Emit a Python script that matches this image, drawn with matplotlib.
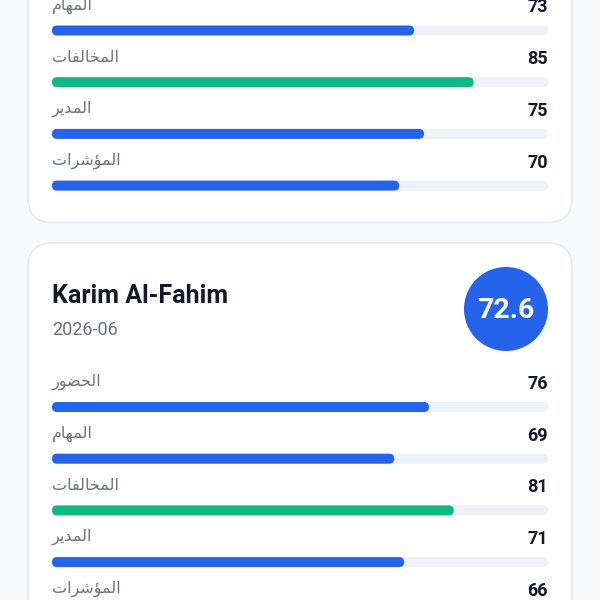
import matplotlib
matplotlib.use("Agg")
import matplotlib.pyplot as plt
from matplotlib.patches import FancyBboxPatch, Circle

# data
metrics = ['الحضور', 'المهام', 'المخالفات', 'المدير', 'المؤشرات']
bar_colors = ['#2563eb', '#2563eb', '#10b981', '#2563eb', '#2563eb']
card1_scores = [None, 73, 85, 75, 70]   # first row is scrolled off the top
card2_name = 'Karim Al-Fahim'
card2_period = '2026-06'
card2_total = 72.6
card2_scores = [76, 69, 81, 71, 66]

# minimal arabic shaping (presentation forms) since matplotlib has no bidi
forms = {'ا': 0xFE8D, 'ل': 0xFEDD, 'ح': 0xFEA1, 'ض': 0xFEBD, 'و': 0xFEED,
         'ر': 0xFEAD, 'م': 0xFEE1, 'ه': 0xFEE9, 'خ': 0xFEA5, 'ف': 0xFED1,
         'ت': 0xFE95, 'د': 0xFEA9, 'ي': 0xFEF1, 'ؤ': 0xFE85, 'ش': 0xFEB5}
dual = set('لحضمهخفتيش')


def shape(word):
    out = []
    for i, c in enumerate(word):
        prev_j = i > 0 and word[i - 1] in dual
        next_j = i < len(word) - 1 and c in dual
        if prev_j and next_j:
            off = 3
        elif prev_j:
            off = 1
        elif next_j:
            off = 2
        else:
            off = 0
        out.append(chr(forms[c] + off))
    return ''.join(reversed(out))


BG = '#f8fafc'
TRACK = '#eef2f7'
GRAY = '#6b7280'
DARK = '#111827'

fig = plt.figure(figsize=(6, 6), dpi=100)
fig.patch.set_facecolor(BG)
ax = fig.add_axes([0, 0, 1, 1])
ax.set_xlim(0, 600)
ax.set_ylim(600, 0)
ax.axis('off')

x0, x1 = 52, 548
track_w = x1 - x0
pitch = 51.7
bar_h = 10


def card(top, bottom):
    ax.add_patch(FancyBboxPatch((28, top), 544, bottom - top,
                                boxstyle='round,pad=0,rounding_size=24',
                                fc='white', ec='#e5e9f0', lw=1.2, zorder=1))


def rows(first_bar_y, scores):
    for i, (lab, val, col) in enumerate(zip(metrics, scores, bar_colors)):
        if val is None:
            continue
        by = first_bar_y + i * pitch
        ax.add_patch(FancyBboxPatch((x0, by - bar_h / 2), track_w, bar_h,
                                    boxstyle='round,pad=0,rounding_size=5',
                                    fc=TRACK, ec='none', zorder=2))
        ax.add_patch(FancyBboxPatch((x0, by - bar_h / 2), track_w * val / 100, bar_h,
                                    boxstyle='round,pad=0,rounding_size=5',
                                    fc=col, ec='none', zorder=3))
        ax.text(x0, by - 25, shape(lab), ha='left', va='center', fontsize=11.5,
                color=GRAY, family=['DejaVu Sans'], zorder=4)
        ax.text(x1, by - 23, str(val), ha='right', va='center', fontsize=13,
                fontweight='bold', color=DARK, family=['Roboto', 'DejaVu Sans'], zorder=4)


# card 1 (partially visible)
card(-185, 222.5)
rows(-21.2, card1_scores)

# card 2
card(243, 651)
ax.text(52, 296, card2_name, ha='left', va='center', fontsize=18,
        fontweight='bold', color=DARK, family=['Roboto', 'DejaVu Sans'], zorder=4)
ax.text(52, 330, card2_period, ha='left', va='center', fontsize=13,
        color=GRAY, family=['Roboto', 'DejaVu Sans'], zorder=4)
ax.add_patch(Circle((506, 309), 42, fc='#2563eb', ec='none', zorder=3))
ax.text(506, 310, f'{card2_total:.1f}', ha='center', va='center', fontsize=20.5,
        fontweight='bold', color='white', family=['Roboto', 'DejaVu Sans'], zorder=4)
rows(407, card2_scores)

fig.savefig('out.png', dpi=100, facecolor=BG)
